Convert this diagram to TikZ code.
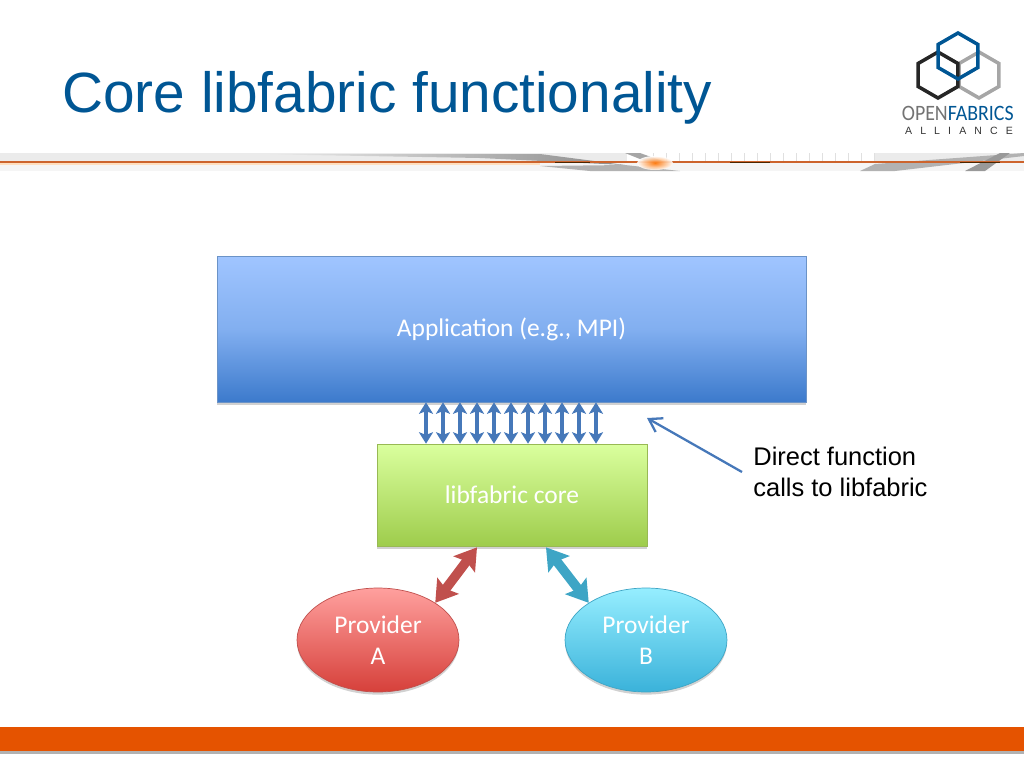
\documentclass[tikz,border=0pt]{standalone}
\usepackage{fontspec}
\setmainfont{Liberation Sans}
\newfontfamily\boxfont{Carlito}
\usetikzlibrary{arrows.meta, calc, positioning, shapes.geometric, shadows}
\definecolor{titleblue}{RGB}{0,86,148}
\definecolor{arrowblue}{RGB}{70,120,185}
\definecolor{accentred}{RGB}{192,80,77}
\definecolor{accentcyan}{RGB}{62,165,197}
\definecolor{barorange}{RGB}{229,83,0}
\definecolor{bandorange}{RGB}{205,100,45}
\tikzset{
    softshadow/.style={drop shadow={shadow xshift=0pt, shadow yshift=-1.5pt, opacity=0.18, fill=black}},
    layerbox/.style={rectangle, inner sep=0pt, softshadow, text=white, align=center, font=\boxfont\fontsize{14.5}{17.6}\selectfont},
    provider/.style={ellipse, inner sep=0pt, minimum width=3.24cm, minimum height=2.08cm, softshadow, text=white, align=center, font=\boxfont\fontsize{14.5}{17.6}\selectfont},
    hexagon/.style={regular polygon, regular polygon sides=6, shape border rotate=30, inner sep=0pt, minimum size=0.92cm, line width=2pt},
    callarrow/.style={{Stealth[length=6.5pt, width=8pt, inset=1.5pt]}-{Stealth[length=6.5pt, width=8pt, inset=1.5pt]}, line width=2pt, arrowblue},
    fatarrow/.style={{Stealth[length=12pt, width=15pt, inset=2pt]}-{Stealth[length=12pt, width=15pt, inset=2pt]}, line width=5.4pt}
}
\begin{document}
\begin{tikzpicture}[x=0.02cm, y=-0.02cm]
    \useasboundingbox (0,0) rectangle (1024,768);

    % Title
    \node[anchor=base west, inner sep=0pt, titleblue, font=\fontsize{32.3}{36}\selectfont] (title) at (62,112) {Core libfabric functionality};

    % Logo
    \node[hexagon, draw=black!35] (hexgray) at (979,75) {};
    \node[hexagon, draw=black!85] (hexblack) at (938,75) {};
    \node[hexagon, draw=titleblue] (hexblue) at (958,56) {};
    \node[anchor=base east, inner sep=0pt, font=\boxfont\fontsize{12.5}{13}\selectfont] (logotext) at (1014,120.5) {\scalebox{0.905}[1]{\textcolor{black!55}{OPEN}\textcolor{titleblue}{FABRICS}}};
    \node[anchor=base, inner sep=0pt, text=black!80, font=\fontsize{6}{7}\selectfont] (logosub) at (959,134) {A\hspace{0.77em}L\hspace{0.77em}L\hspace{0.77em}I\hspace{0.77em}A\hspace{0.77em}N\hspace{0.77em}C\hspace{0.77em}E};

    % Header band
    \fill[black!8] (0,153) rectangle (1024,161);
    \fill[black!4] (0,163) rectangle (1024,171);
    \shade[left color=black!6, right color=black!45] (250,154) -- (540,154) -- (625,165) -- (480,158) -- cycle;
    \fill[black!30] (540,166) -- (625,165) -- (680,171) -- (590,171) -- cycle;
    \fill[white] (627,153) rectangle (875,161);
    \foreach \gx in {640,653,...,875}
        \draw[black!12, line width=0.3pt] (\gx,153) -- (\gx,161);
    \fill[black!35] (625,153) -- (640,153) -- (668,163) -- (650,163) -- cycle;
    \fill[black!30] (875,164) -- (1024,153) -- (1024,156) -- (895,171) -- (860,171) -- cycle;
    \fill[black!40] (965,171) -- (1000,153) -- (1010,153) -- (985,171) -- cycle;
    \fill[orange!25] (0,163) rectangle (540,165);
    \fill[bandorange] (0,161) rectangle (1024,163);
    \shade[inner color=orange!90!red, outer color=white, opacity=0.9] (655,163) ellipse (18 and 7);
    \fill[black!70!orange] (555,161.5) rectangle (590,163);
    \fill[black!70!orange] (730,161.5) rectangle (770,163);
    \fill[black!70!orange] (960,161.5) rectangle (1000,163);

    % Boxes
    \node[layerbox, minimum width=11.78cm, minimum height=2.92cm, draw=arrowblue!80, top color={rgb,255:red,160;green,197;blue,255}, bottom color={rgb,255:red,60;green,122;blue,204}, middle color={rgb,255:red,130;green,175;blue,240}] (app) at (511.5,329) {\raisebox{-2pt}{Application (e.g., MPI)}};
    \node[layerbox, minimum width=5.4cm, minimum height=2.04cm, draw={rgb,255:red,152;green,185;blue,84}, top color={rgb,255:red,218;green,255;blue,158}, bottom color={rgb,255:red,158;green,204;blue,76}] (core) at (512,495) {libfabric core};
    \node[provider, draw=accentred, top color={rgb,255:red,255;green,160;blue,158}, bottom color={rgb,255:red,214;green,64;blue,58}] (provA) at (378,640) {Provider\\A};
    \node[provider, draw=accentcyan, top color={rgb,255:red,150;green,238;blue,255}, bottom color={rgb,255:red,58;green,178;blue,218}] (provB) at (646,640) {Provider\\B};

    % Calls between application and core
    \foreach \cx in {426,443,...,597}
        \draw[callarrow] (\cx,0 |- app.south) -- (\cx,0 |- core.north);

    % Provider links
    \draw[fatarrow, accentred] ($(core.south)+(-35,1)$) -- (provA.33);
    \draw[fatarrow, accentcyan] ($(core.south)+(34,1)$) -- (provB.147);

    % Callout
    \node[anchor=west, inner sep=0pt, align=left, font=\fontsize{14.5}{17.4}\selectfont] (note) at (753,472) {Direct function\\calls to libfabric};
    \coordinate (gap) at (647,418);
    \draw[-{Straight Barb[length=7pt, width=9pt]}, arrowblue, line width=1.3pt] ($(note.west)+(-11,0)$) -- (gap);

    % Footer bar
    \fill[black!30] (0,751) rectangle (1024,753.5);
    \fill[barorange] (0,727) rectangle (1024,751);
\end{tikzpicture}
\end{document}
